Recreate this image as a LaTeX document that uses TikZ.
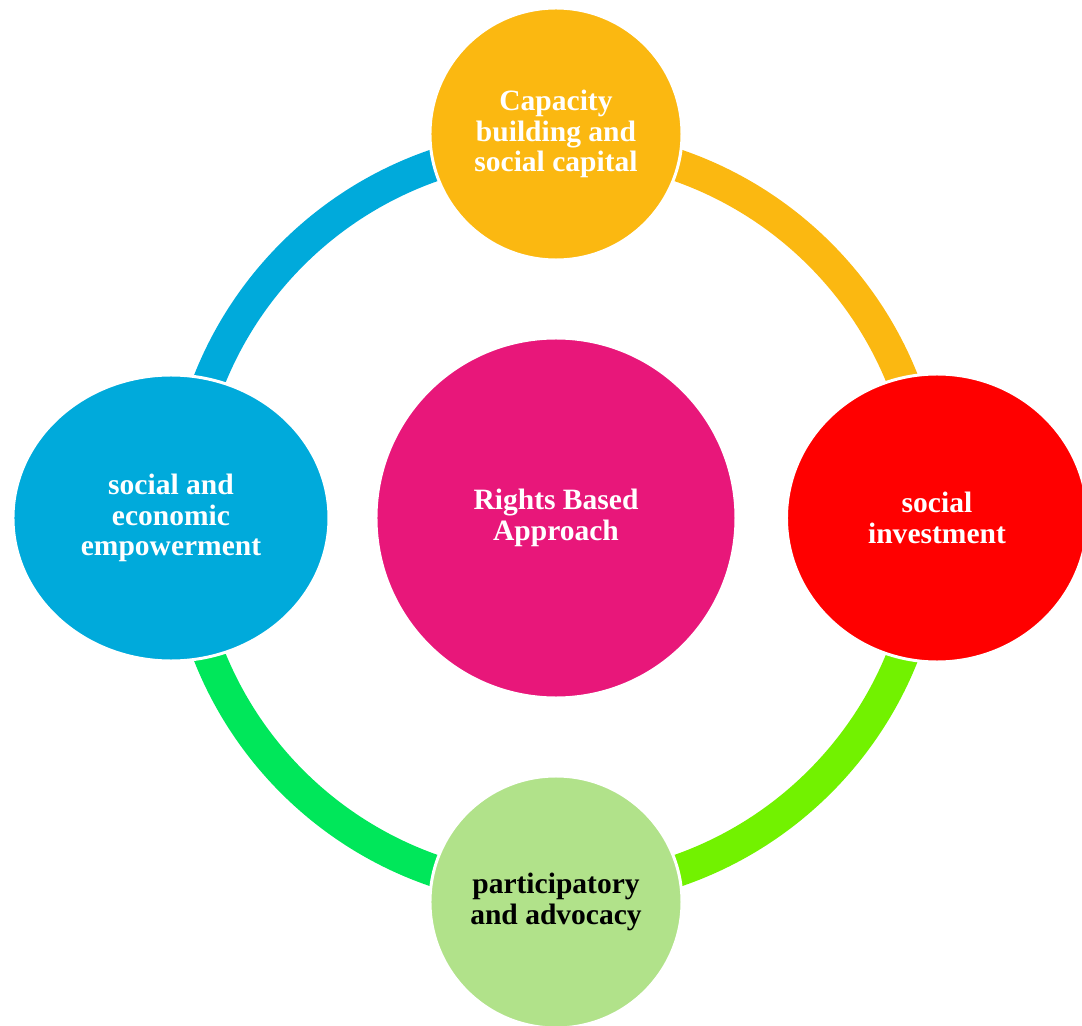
\documentclass[tikz,border=0pt]{standalone}
\usepackage{fontspec}
\setmainfont{Liberation Serif}
\usetikzlibrary{shapes.geometric}

\definecolor{capyellow}{HTML}{FBB811}
\definecolor{empblue}{HTML}{00AADB}
\definecolor{invred}{HTML}{FF0000}
\definecolor{rightspink}{HTML}{E8177A}
\definecolor{advgreen}{HTML}{B1E28A}
\definecolor{limegreen}{HTML}{72F200}
\definecolor{jadegreen}{HTML}{00E75A}

\begin{document}
\begin{tikzpicture}[
		blob/.style={ellipse, draw=white, line width=1.7pt, inner sep=0pt, align=center,
			font=\fontsize{16.8}{17.4}\selectfont\bfseries, text=white},
		ringseg/.style={line width=0.64cm}
	]
			% page size
			\useasboundingbox (-11.12,-10.16) rectangle (10.52,10.36);

			% ring
			\draw[ringseg, empblue] (180:7.46) arc (180:90:7.46);
			\draw[ringseg, capyellow] (90:7.46) arc (90:0:7.46);
			\draw[ringseg, limegreen] (0:7.46) arc (360:270:7.46);
			\draw[ringseg, jadegreen] (270:7.46) arc (270:180:7.46);

			% centre
			\node[blob, fill=rightspink, minimum width=7.2cm, minimum height=7.2cm] (rba) at (0,0) {Rights Based\\Approach};

			% outer nodes
			\node[blob, fill=capyellow, minimum width=5.04cm, minimum height=5.04cm] (capacity) at (0,7.68) {Capacity\\building and\\social capital};
			\node[blob, fill=invred, minimum width=6.02cm, minimum height=5.76cm] (invest) at (7.62,0) {social\\investment};
			\node[blob, fill=advgreen, minimum width=5.04cm, minimum height=5.04cm, text=black] (advocacy) at (0,-7.68) {participatory\\and advocacy};
			\node[blob, fill=empblue, minimum width=6.32cm, minimum height=5.72cm] (empower) at (-7.7,0) {social and\\economic\\empowerment};
		\end{tikzpicture}
\end{document}
